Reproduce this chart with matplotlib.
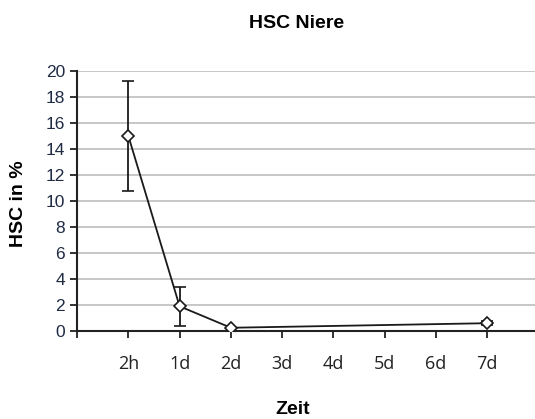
import numpy as np
import matplotlib.pyplot as plt

# HSC share over time
zeit = ["2h", "1d", "2d", "3d", "4d", "5d", "6d", "7d"]
hsc = [15.0, 1.9, 0.25, None, None, None, None, 0.6]
fehler = [4.25, 1.5, 0.0, None, None, None, None, 0.15]

pos = np.arange(1, len(zeit) + 1)
mask = np.array([v is not None for v in hsc])
x = pos[mask]
y = np.array([v for v in hsc if v is not None])
err = np.array([e for e in fehler if e is not None])

fig = plt.figure(figsize=(5.35, 4.19), dpi=100)
ax = fig.add_axes([0.144, 0.21, 0.856, 0.621])

ax.errorbar(x, y, yerr=err, color="#1a1a1a", lw=1.3, elinewidth=1.3,
            capsize=4, capthick=1.3, marker="D", markersize=6.5,
            markerfacecolor="white", markeredgecolor="#1a1a1a",
            markeredgewidth=1.2, zorder=3)

ax.set_ylim(0, 20)
ax.set_yticks(range(0, 21, 2))
ax.set_xlim(0, 8.93)
ax.set_xticks(range(0, 9))
ax.set_xticklabels([""] + zeit, fontsize=13, family="Open Sans",
                   color="#222222")
ax.tick_params(axis="x", length=5, width=1.3, pad=12, color="#222222")
ax.tick_params(axis="y", length=5, width=1.3, labelsize=12.5,
               labelcolor="#1f2a44", color="#222222")
for lab in ax.get_yticklabels():
    lab.set_family("Liberation Sans")

ax.grid(axis="y", color="#bdbdbd", lw=1.2)
ax.set_axisbelow(True)
for s in ["top", "right"]:
    ax.spines[s].set_visible(False)
for s in ["left", "bottom"]:
    ax.spines[s].set_linewidth(1.5)
    ax.spines[s].set_color("#222222")

fig.text(0.555, 0.943, "HSC Niere", ha="center", va="center",
         fontsize=14, fontweight="bold", family="Liberation Sans")
fig.text(0.547, 0.022, "Zeit", ha="center", va="center",
         fontsize=14, fontweight="bold", family="Liberation Sans")
fig.text(0.035, 0.515, "HSC in %", ha="center", va="center", rotation=90,
         fontsize=14, fontweight="bold", family="Liberation Sans")

fig.savefig("out.png", dpi=100)
